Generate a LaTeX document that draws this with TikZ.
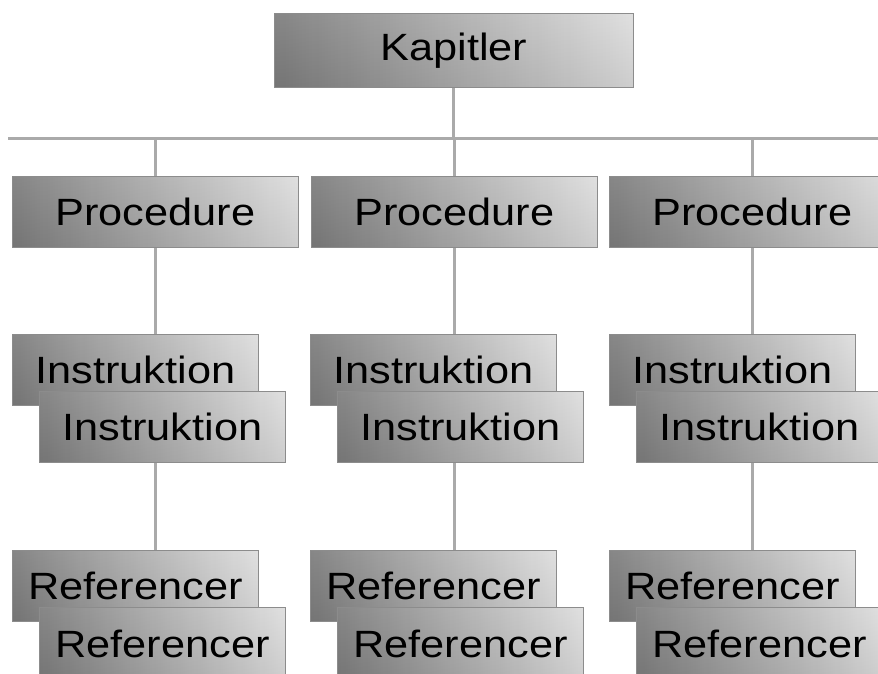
\documentclass[tikz,border=0pt]{standalone}
\usepackage{fontspec}
\setmainfont{Liberation Sans}[FakeStretch=1.14]
\definecolor{boxdark}{RGB}{135,135,135}
\definecolor{boxmid}{RGB}{198,198,198}
\definecolor{boxlight}{RGB}{246,246,246}
\definecolor{boxedge}{RGB}{140,140,140}
\definecolor{linegray}{RGB}{170,170,170}
\tikzset{
  box/.style={draw=boxedge, line width=0.8pt, left color=boxdark, middle color=boxmid, right color=boxlight,
    path picture={\fill[top color=white, bottom color=black!70, fill opacity=0.10]
      (path picture bounding box.south west) rectangle (path picture bounding box.north east);},
    inner sep=0pt, anchor=north west, minimum height=71pt,
    font=\fontsize{38}{40}\selectfont},
  wide/.style={minimum width=286pt},
  narrow/.style={minimum width=246pt},
  conn/.style={draw=linegray, line width=3pt}
}
\begin{document}
\begin{tikzpicture}[x=1pt,y=-1pt]
\useasboundingbox (0,0) rectangle (878,673);
\fill[white] (0,0) rectangle (878,673);
\coordinate (hl) at (8,138);
\coordinate (hr) at (878,138);
% boxes
\node[box, minimum width=359pt, minimum height=74pt] (k) at (274,13) {Kapitler};
\node[box, wide] (p1) at (12,176) {Procedure};
\node[box, wide] (p2) at (311,176) {Procedure};
\node[box, wide] (p3) at (609,176) {Procedure};
\foreach \c/\x in {1/12, 2/310, 3/609}{
  \node[box, narrow] (i\c a) at (\x,334) {Instruktion};
  \node[box, narrow] (i\c b) at (\x+27,391) {Instruktion};
  \node[box, narrow] (r\c a) at (\x,550) {Referencer};
  \node[box, narrow, minimum height=73pt] (r\c b) at (\x+27,607) {Referencer};
}
% connectors
\draw[conn] (hl) -- (hr);
\draw[conn] (k.south) -- (k.south |- hl);
\foreach \c in {1,2,3}{
  \draw[conn] (p\c.north |- hl) -- (p\c.north);
  \draw[conn] (p\c.south) -- (p\c.south |- i\c a.north);
  \draw[conn] (p\c.south |- i\c b.south) -- (p\c.south |- r\c a.north);
}
\end{tikzpicture}
\end{document}
